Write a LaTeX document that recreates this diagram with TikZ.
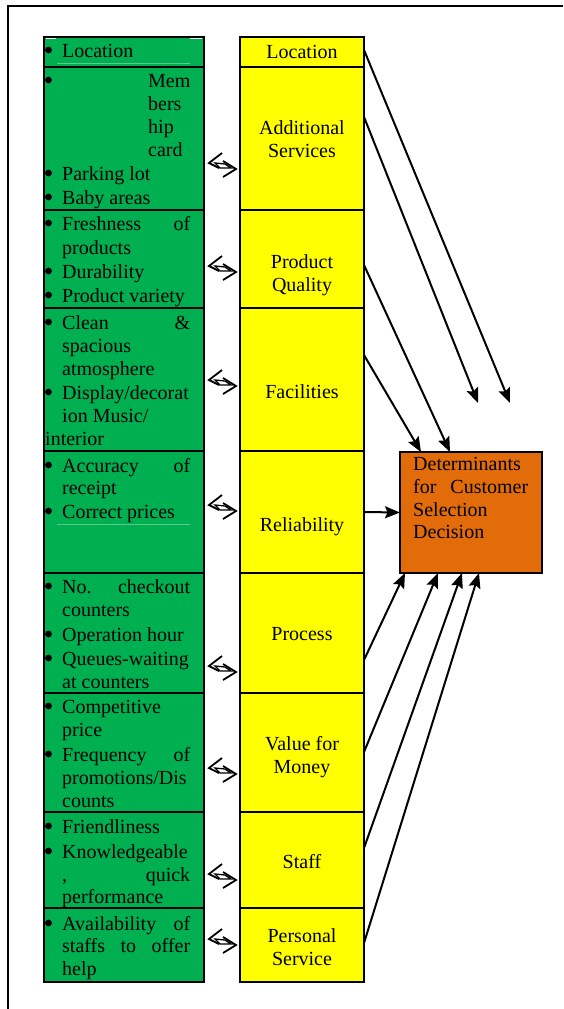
\documentclass[tikz,border=0pt]{standalone}
\usepackage{fontspec}
\setmainfont{Liberation Serif}
\usetikzlibrary{arrows.meta}
\definecolor{gr}{HTML}{00B050}
\definecolor{yl}{HTML}{FFFF00}
\definecolor{orng}{HTML}{E36C0A}
\newcommand\myfs{\fontsize{20pt}{23pt}\selectfont}
\newcommand\jl[2]{\makebox[#1pt]{#2}}
\tikzset{
  gcell/.style={draw, line width=1.8pt, fill=gr, minimum width=160pt, inner sep=0pt, outer sep=0pt},
  ycell/.style={draw, line width=1.8pt, fill=yl, minimum width=124pt, inner sep=0pt, outer sep=0pt},
  txt/.style={anchor=base west, inner sep=0pt, font=\myfs},
  ctxt/.style={anchor=base, inner sep=0pt, font=\myfs},
  arr/.style={line width=2pt, -{Stealth[length=15pt,width=12pt,inset=2.5pt]}},
  dbl/.pic={
    \draw[line width=1.8pt, line join=miter] (0,-12) -- (-13,-2) -- (-3,3);
    \draw[line width=1.8pt, line join=miter] (1,-4) -- (14,4) -- (1,12);
    \draw[line width=1.3pt] (-7,-2) -- (3,-1) -- (9,3) -- (-2,3) -- cycle;
  }
}
\begin{document}
\begin{tikzpicture}[x=1pt,y=-1pt]
\useasboundingbox (0,0) rectangle (563,1009);
% frame
\draw[line width=1.6pt] (8,1009) -- (8,6) -- (563,6);

% green column cells
\node[gcell, minimum height=30pt]  (g1) at (124,52)    {};
\node[gcell, minimum height=143pt] (g2) at (124,138.5) {};
\node[gcell, minimum height=98pt]  (g3) at (124,259)   {};
\node[gcell, minimum height=143pt] (g4) at (124,379.5) {};
\node[gcell, minimum height=122pt] (g5) at (124,512)   {};
\node[gcell, minimum height=120pt] (g6) at (124,633)   {};
\node[gcell, minimum height=119pt] (g7) at (124,752.5) {};
\node[gcell, minimum height=96pt]  (g8) at (124,860)   {};
\node[gcell, minimum height=74pt]  (g9) at (124,945)   {};
\draw[line width=2.2pt] (g1.north west) rectangle (g9.south east);
\draw[white, line width=0.8pt] (46,38.8) -- (56,38.8) (190,38.8) -- (202,38.8);
\draw[gr!65!white, line width=0.6pt] (57,63) -- (190,63) (57,524) -- (190,524);

% yellow column cells
\node[ycell, minimum height=30pt]  (y1) at (302,52)    {};
\node[ycell, minimum height=143pt] (y2) at (302,138.5) {};
\node[ycell, minimum height=98pt]  (y3) at (302,259)   {};
\node[ycell, minimum height=143pt] (y4) at (302,379.5) {};
\node[ycell, minimum height=122pt] (y5) at (302,512)   {};
\node[ycell, minimum height=120pt] (y6) at (302,633)   {};
\node[ycell, minimum height=119pt] (y7) at (302,752.5) {};
\node[ycell, minimum height=96pt]  (y8) at (302,860)   {};
\node[ycell, minimum height=74pt]  (y9) at (302,945)   {};
\draw[line width=1.8pt] (y1.north west) rectangle (y9.south east);
\draw[line width=2.8pt] (y1.north east) -- (y9.south east);

% orange box
\node[draw, line width=2.2pt, fill=orng, minimum width=142pt, minimum height=121pt, inner sep=0pt, outer sep=0pt] (dec) at (471,512.5) {};
\node[txt] at (413,470) {Determinants};
\node[txt] at (413,493) {\jl{115}{for\hfill Customer}};
\node[txt] at (413,516) {Selection};
\node[txt] at (413,538) {Decision};

% yellow texts
\node[ctxt] at (302,58) {Location};
\node[ctxt] at (302,134) {Additional};
\node[ctxt] at (302,157) {Services};
\node[ctxt] at (302,268) {Product};
\node[ctxt] at (302,291) {Quality};
\node[ctxt] at (302,398) {Facilities};
\node[ctxt] at (302,531) {Reliability};
\node[ctxt] at (302,640) {Process};
\node[ctxt] at (302,750) {Value for};
\node[ctxt] at (302,773) {Money};
\node[ctxt] at (302,868) {Staff};
\node[ctxt] at (302,942) {Personal};
\node[ctxt] at (302,965) {Service};

% green texts
\foreach \yy in {57,87,180,204,230,278,302,329,399,472,518,593,641,665,713,761,833,858,930}
  \fill (48.5,\yy-7) circle[radius=3.4pt];
\node[txt] at (62,57) {Location};
\node[txt] at (148,87) {Mem};
\node[txt] at (148,110) {bers};
\node[txt] at (148,133) {hip};
\node[txt] at (148,156) {card};
\node[txt] at (62,180) {Parking lot};
\node[txt] at (62,204) {Baby areas};
\node[txt] at (62,230) {\jl{128}{Freshness\hfill of}};
\node[txt] at (62,254) {products};
\node[txt] at (62,278) {Durability};
\node[txt] at (62,302) {Product variety};
\node[txt] at (62,329) {\jl{128}{Clean\hfill \&}};
\node[txt] at (62,352) {spacious};
\node[txt] at (62,375) {atmosphere};
\node[txt] at (62,399) {Display/decorat};
\node[txt] at (62,422) {ion Music/};
\node[txt] at (45,445) {interior};
\node[txt] at (62,472) {\jl{128}{Accuracy\hfill of}};
\node[txt] at (62,494) {receipt};
\node[txt] at (62,518) {Correct prices};
\node[txt] at (62,593) {\jl{128}{No.\hfill checkout}};
\node[txt] at (62,616) {counters};
\node[txt] at (62,641) {Operation hour};
\node[txt] at (62,665) {Queues-waiting};
\node[txt] at (62,688) {at counters};
\node[txt] at (62,713) {Competitive};
\node[txt] at (62,736) {price};
\node[txt] at (62,761) {\jl{128}{Frequency\hfill of}};
\node[txt] at (62,784) {promotions/Dis};
\node[txt] at (62,807) {counts};
\node[txt] at (62,833) {Friendliness};
\node[txt] at (62,858) {Knowledgeable};
\node[txt] at (62,881) {\jl{128}{,\hfill quick}};
\node[txt] at (62,903) {performance};
\node[txt] at (62,930) {\jl{128}{Availability\hfill of}};
\node[txt] at (62,952) {\jl{128}{staffs\hfill to\hfill offer}};
\node[txt] at (62,975) {help};

% double arrow icons
\foreach \yy in {165,268,382,507,668,770,876,941}
  \pic at (222,\yy) {dbl};

% connectors
\coordinate (s1) at (364,50);  \coordinate (e1) at (510,403);
\coordinate (s2) at (364,117); \coordinate (e2) at (478,403);
\coordinate (s3) at (364,265); \coordinate (e3) at (450,452);
\coordinate (s4) at (364,355); \coordinate (e4) at (421,452);
\coordinate (s6) at (364,660); \coordinate (e6) at (405,573);
\coordinate (s7) at (364,752); \coordinate (e7) at (438,573);
\coordinate (s8) at (364,848); \coordinate (e8) at (462,573);
\coordinate (s9) at (364,943); \coordinate (e9) at (479,573);
\draw[arr] (s1) -- (e1);
\draw[arr] (s2) -- (e2);
\draw[arr] (s3) -- (e3);
\draw[arr] (s4) -- (e4);
\draw[arr] (y5.east) -- (dec.west);
\draw[arr] (s6) -- (e6);
\draw[arr] (s7) -- (e7);
\draw[arr] (s8) -- (e8);
\draw[arr] (s9) -- (e9);
\end{tikzpicture}
\end{document}
